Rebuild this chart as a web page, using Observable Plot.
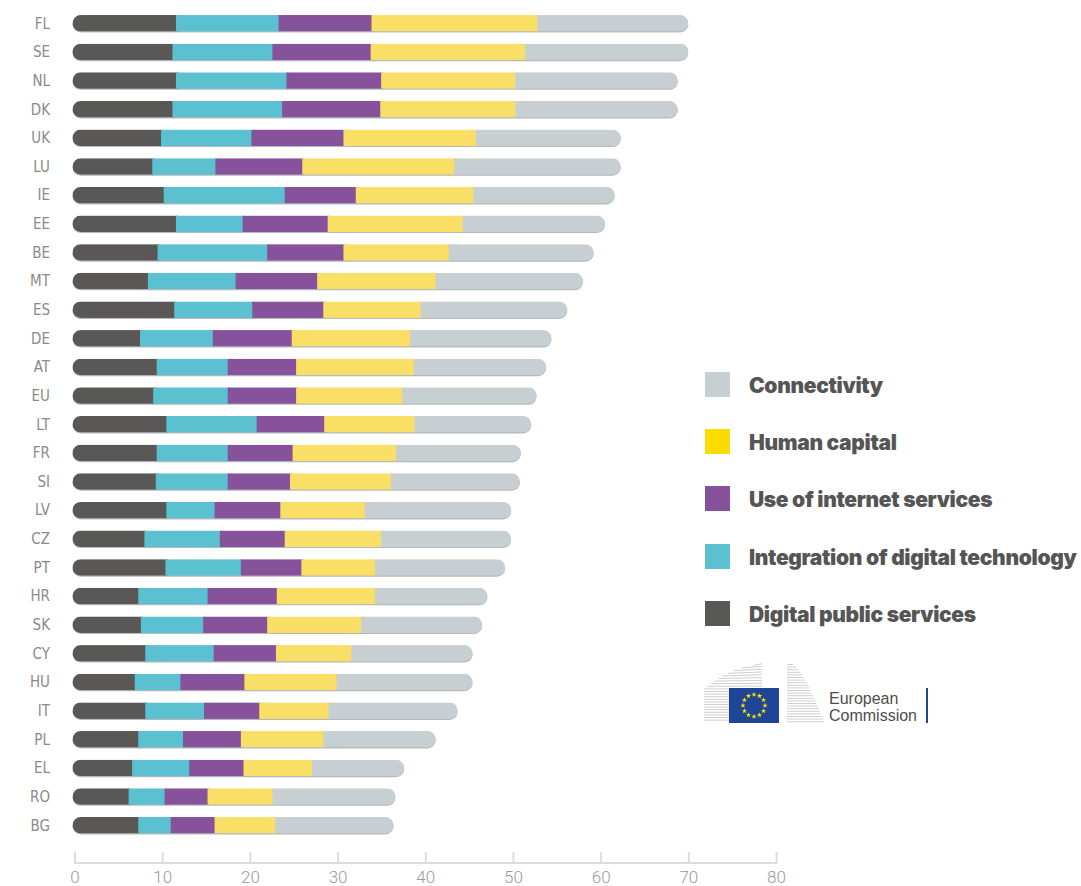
<!DOCTYPE html>
<html>
<head>
<meta charset="utf-8">
<script src="https://cdn.jsdelivr.net/npm/d3@7"></script>
<script src="https://cdn.jsdelivr.net/npm/@observablehq/plot@0.6"></script>
<style>
  html, body { margin: 0; padding: 0; background: #fff; }
  #wrap { position: relative; width: 1081px; height: 886px; overflow: hidden; }
  #legend { position: absolute; left: 705px; top: 372px; font-family: Inter, Lato, "Noto Sans", sans-serif; font-weight: 900; color: #555; font-size: 21px; }
  .item { position: absolute; left: 0; height: 25px; white-space: nowrap; }
  .sw { position: absolute; left: 0; top: 0; width: 25px; height: 25px; }
  .lab { position: absolute; left: 44px; top: 1px; line-height: 25px; letter-spacing: -0.33px; }
  #logo { position: absolute; left: 700px; top: 655px; }
</style>
</head>
<body>
<div id="wrap">
  <div id="chart"></div>
  <div id="legend"></div>
  <svg id="logo" width="240" height="80"></svg>
</div>
<script>
// ---- data ----
const countries = ["FL","SE","NL","DK","UK","LU","IE","EE","BE","MT","ES","DE","AT","EU","LT","FR","SI","LV","CZ","PT","HR","SK","CY","HU","IT","PL","EL","RO","BG"];
const digitalPublicServices = [11.8,11.4,11.8,11.4,10.1,9.1,10.4,11.8,9.7,8.6,11.6,7.7,9.6,9.2,10.7,9.6,9.5,10.7,8.2,10.6,7.5,7.8,8.3,7.1,8.3,7.5,6.8,6.4,7.5];
const integrationDigitalTech = [11.7,11.4,12.6,12.5,10.3,7.2,13.8,7.6,12.5,10.0,8.9,8.3,8.1,8.5,10.3,8.1,8.2,5.5,8.6,8.6,7.9,7.1,7.8,5.2,6.7,5.1,6.5,4.1,3.7];
const useOfInternetServices = [10.6,11.2,10.8,11.2,10.5,9.9,8.1,9.7,8.7,9.3,8.1,9.0,7.8,7.8,7.7,7.4,7.1,7.5,7.4,6.9,7.9,7.3,7.1,7.3,6.3,6.6,6.2,4.9,5.0];
const humanCapital = [18.9,17.6,15.3,15.4,15.1,17.3,13.4,15.4,12.0,13.5,11.1,13.5,13.4,12.1,10.3,11.8,11.5,9.6,11.0,8.4,11.2,10.7,8.6,10.5,7.9,9.4,7.8,7.4,6.9];
const connectivity = [17.0,18.4,18.3,18.3,16.3,18.8,15.9,16.0,16.3,16.6,16.5,15.9,14.9,15.1,13.1,14.0,14.5,16.5,14.6,14.6,12.6,13.6,13.6,15.3,14.5,12.6,10.3,13.8,13.3];
const components = ["Digital public services","Integration of digital technology","Use of internet services","Human capital","Connectivity"];
const barColors = ["#595856","#5bc1d0","#86529b","#f9df66","#c8cfd2"];
const legendOrder = ["Connectivity","Human capital","Use of internet services","Integration of digital technology","Digital public services"];
const legendColors = ["#c8cfd2","#fcdc00","#86529b","#5bc1d0","#595856"];
const xTicks = [0,10,20,30,40,50,60,70,80];

// ---- tables built from the arrays ----
const series = [digitalPublicServices, integrationDigitalTech, useOfInternetServices, humanCapital, connectivity];
const long = [];
components.forEach((c, j) => countries.forEach((k, i) => long.push({country: k, component: c, value: series[j][i]})));
const totals = countries.map((k, i) => ({country: k, total: d3.sum(series, s => s[i])}));

const bw = 16.5, r = bw / 2;
const chart = Plot.plot({
  width: 1081, height: 886,
  marginLeft: 74.5, marginRight: 305, marginTop: 0, marginBottom: 22,
  style: {fontFamily: "'Liberation Sans Narrow', 'DejaVu Sans Condensed', Roboto, sans-serif", fontSize: "15px", color: "#8a8a8a", background: "transparent", overflow: "visible"},
  x: {domain: [0, 80], axis: null},
  y: {domain: countries, range: [2.9, 845.6], padding: 0.424, round: false, tickSize: 0, tickPadding: 25, label: null},
  color: {domain: components, range: barColors},
  marks: [
    Plot.barX(totals, {x: "total", y: "country", rx: r, fill: "#b3b9bc", dy: 1, insetLeft: -2}),
    Plot.barX(totals, {x: "total", y: "country", rx: r, fill: "#000", insetLeft: -2}),
    Plot.barX(long, Plot.stackX({x: "value", y: "country", fill: "component", order: components, insetLeft: -2})),
    Plot.barX([xTicks], {x1: d => d[0], x2: d => d[d.length - 1], fill: "#dcdcdc", insetTop: 862}),
    Plot.ruleX(xTicks, {x: d => d, stroke: "#dcdcdc", strokeWidth: 2, insetTop: 852}),
    Plot.text(xTicks, {x: d => d, text: d => String(d), frameAnchor: "bottom", dy: 18, fill: "#9a9a9a", fontSize: 17, fontFamily: "Roboto, sans-serif", fontWeight: 300})
  ]
});
document.getElementById("chart").appendChild(chart);

// rounded (pill) ends: clip the stacked segments with the rounded total bars
(function () {
  const svg = chart.tagName.toLowerCase() === "svg" ? chart : chart.querySelector("svg");
  const groups = svg.querySelectorAll('g[aria-label="bar"]');
  const shadow = groups[0], src = groups[1], stack = groups[2];
  shadow.querySelectorAll("rect").forEach(el => { el.setAttribute("rx", r); el.setAttribute("ry", r); });
  const ns = "http://www.w3.org/2000/svg";
  const defs = document.createElementNS(ns, "defs");
  const cp = document.createElementNS(ns, "clipPath");
  cp.setAttribute("id", "pill-clip");
  src.querySelectorAll("rect, path").forEach(el => {
    const c = el.cloneNode();
    if (c.tagName.toLowerCase() === "rect") { c.setAttribute("rx", r); c.setAttribute("ry", r); }
    cp.appendChild(c);
  });
  defs.appendChild(cp);
  svg.insertBefore(defs, svg.firstChild);
  src.remove();
  stack.setAttribute("clip-path", "url(#pill-clip)");
})();

// legend
const legend = d3.select("#legend");
legendOrder.forEach((name, i) => {
  const it = legend.append("div").attr("class", "item").style("top", (i * 57.2) + "px");
  it.append("div").attr("class", "sw").style("background", legendColors[i]);
  it.append("div").attr("class", "lab").text(name);
});

// European Commission logo (decoration)
(function () {
  const g = d3.select("#logo");
  const lines = g.append("g").attr("stroke", "#cfcfcf").attr("stroke-width", 1);
  for (let y = 10.5; y <= 67; y += 2.6) {
    const t = Math.min(1, (y - 10) / 24);
    const x0 = 62 - 58 * Math.sqrt(t);
    lines.append("line").attr("x1", x0).attr("x2", 62).attr("y1", y).attr("y2", y - (1 - t) * 2);
  }
  for (let y = 9.5; y <= 67; y += 2.6) {
    const t = (y - 9) / 58;
    lines.append("line").attr("x1", 87).attr("x2", 92 + 32 * Math.pow(t, 0.7)).attr("y1", y).attr("y2", y);
  }
  g.append("rect").attr("x", 29).attr("y", 33).attr("width", 50).attr("height", 35).attr("fill", "#1f4597");
  const star = d3.symbol(d3.symbolStar, 9);
  for (let k = 0; k < 12; k++) {
    const a = k * Math.PI / 6;
    g.append("path").attr("d", star()).attr("fill", "#ffe600")
      .attr("transform", `translate(${54 + 11 * Math.sin(a)},${50.5 - 11 * Math.cos(a)})`);
  }
  g.append("text").attr("x", 129).attr("y", 49).text("European")
    .attr("font-family", "'Liberation Sans', Arial, sans-serif").attr("font-size", 16).attr("fill", "#4d4d4d");
  g.append("text").attr("x", 129).attr("y", 66).text("Commission")
    .attr("font-family", "'Liberation Sans', Arial, sans-serif").attr("font-size", 16).attr("fill", "#4d4d4d");
  g.append("rect").attr("x", 226).attr("y", 33).attr("width", 2).attr("height", 35).attr("fill", "#1f4597");
})();
</script>
</body>
</html>
